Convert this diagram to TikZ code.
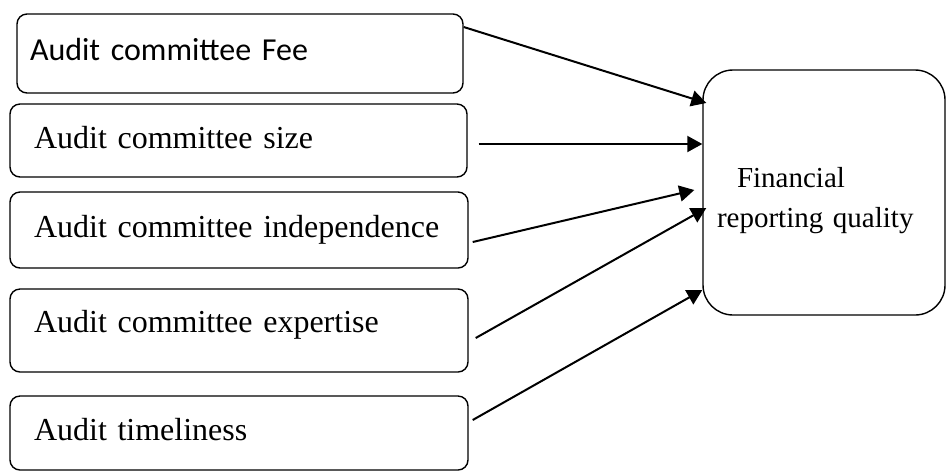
\documentclass[tikz,border=0pt]{standalone}
\usepackage{fontspec}
\setmainfont{Liberation Serif}
\newfontfamily\calibrifont{Carlito}
\usetikzlibrary{arrows.meta,calc}

\tikzset{
  factor/.style={draw,line width=0.7pt,rounded corners=5pt,align=left,
    inner ysep=0pt,inner xsep=12pt,text width=205pt,text height=11pt,
    font=\fontsize{16}{20}\selectfont},
  outcome/.style={draw,line width=0.7pt,rounded corners=15pt,align=left,
    inner ysep=0pt,inner xsep=7pt,text width=107pt,text height=11pt,
    text depth=16.5pt,minimum height=122.5pt,
    font=\fontsize{14.5}{20}\selectfont},
  effect/.style={line width=1pt,-{Triangle[length=7.5pt,width=8pt]}}
}

\begin{document}
\begin{tikzpicture}[x=0.5pt,y=-0.5pt]
  \useasboundingbox (0,0) rectangle (946,473);

  \node[factor,inner xsep=6.5pt,text width=210pt,minimum height=39.5pt,
    text depth=4.5pt,font=\calibrifont\fontsize{16}{20}\selectfont]
    (fee) at (240,53.5) {Audit committee Fee};
  \node[factor,minimum height=36.5pt,text width=204.5pt,text depth=3.5pt]
    (size) at (238.5,140.5) {Audit committee size};
  \node[factor,minimum height=38pt,text depth=4pt]
    (indep) at (239,230) {Audit committee independence};
  \node[factor,minimum height=41.5pt,text depth=9.5pt]
    (expert) at (239,330.5) {Audit committee expertise};
  \node[factor,minimum height=37pt,text depth=4pt]
    (timely) at (239,433) {Audit timeliness};

  \node[outcome] (frq) at (824,192.5)
    {\hspace*{10pt}Financial\\reporting quality};

  \draw[effect] ($(fee.east)+(0,-26.5)$) -- ($(frq.west)+(4,-89.5)$);
  \draw[effect] ($(size.east)+(11,3.5)$) -- ($(frq.west)+(0,-48.5)$);
  \draw[effect] ($(indep.east)+(4,12)$) -- ($(frq.west)+(-8,-2.5)$);
  \draw[effect] ($(expert.east)+(7,7.5)$) -- ($(frq.west)+(4,15.5)$);
  \draw[effect] ($(timely.east)+(4,-13)$) -- ($(frq.west)+(0,97.5)$);
\end{tikzpicture}
\end{document}
